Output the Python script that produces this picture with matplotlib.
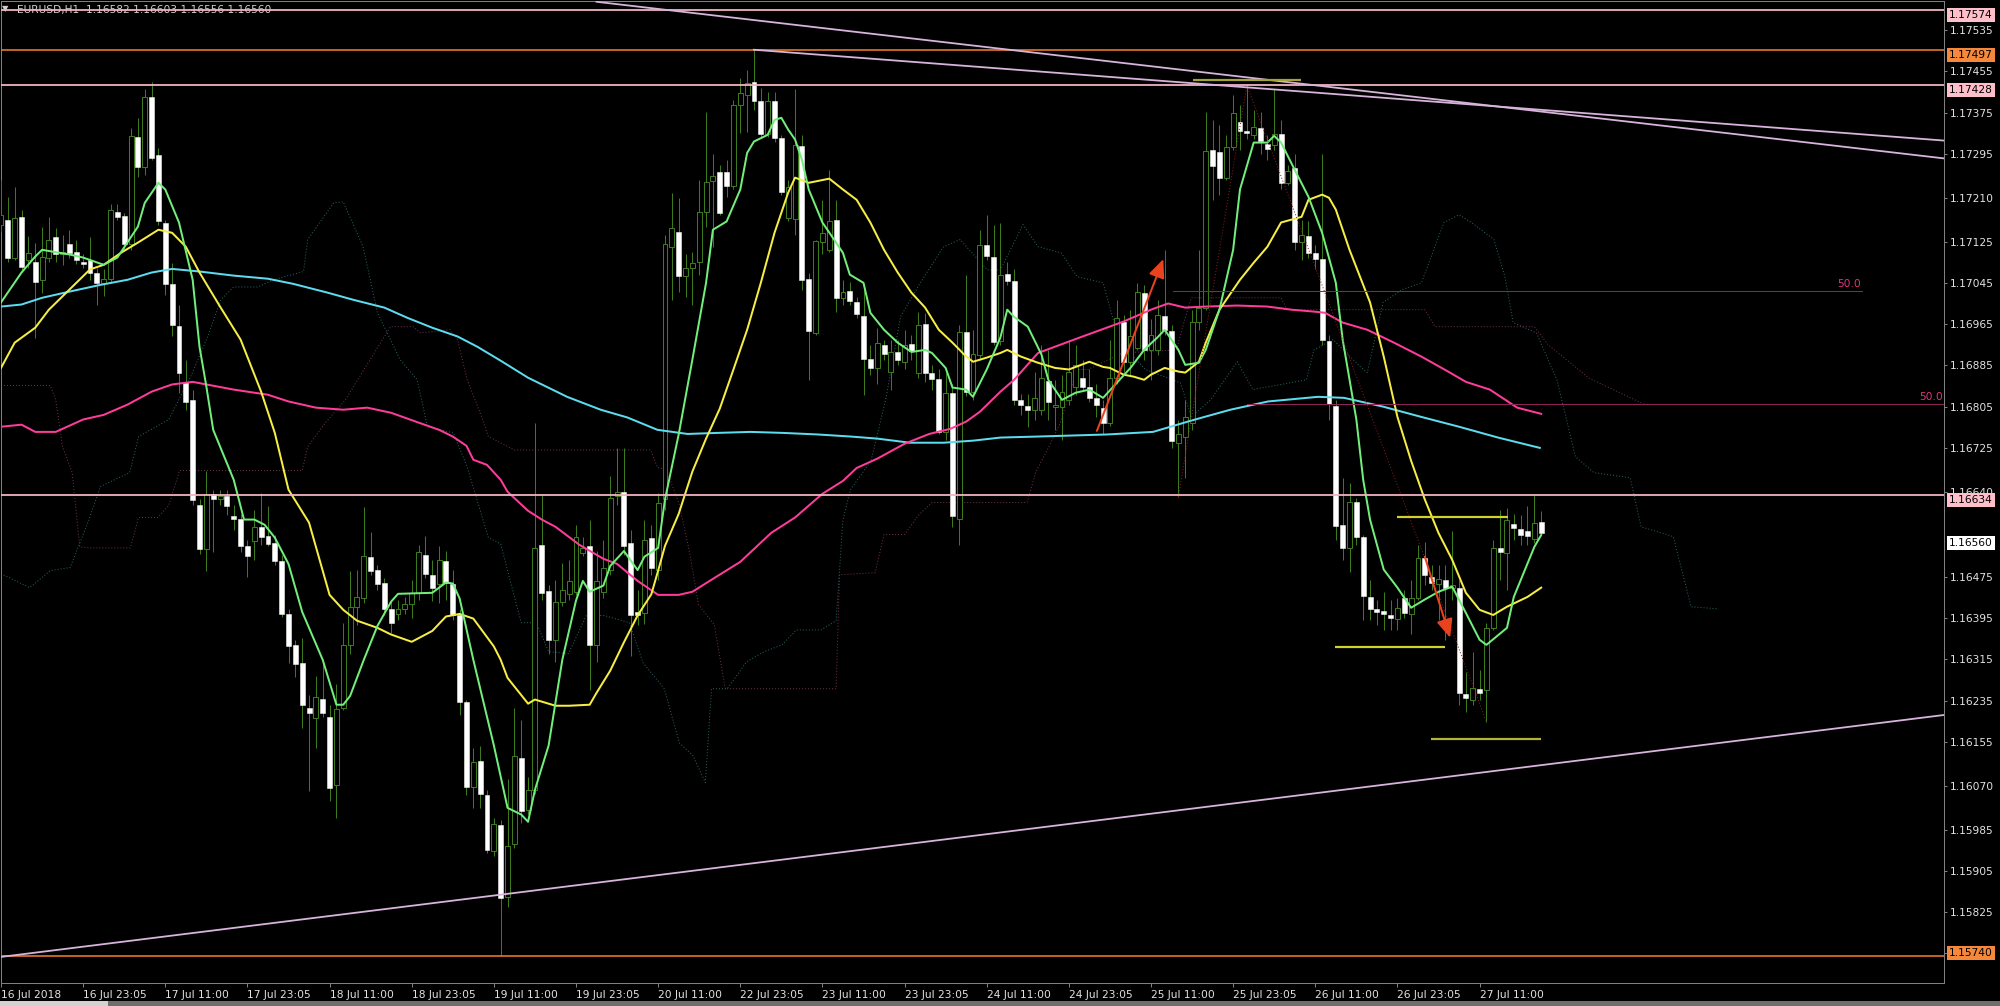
import numpy as np
import matplotlib
matplotlib.use("Agg")
import matplotlib.pyplot as plt

plt.rcParams['font.family'] = ['DejaVu Sans']

# ---------------- data (EURUSD H1) ----------------
opens = [
1.17158,1.17167,1.17094,1.17173,1.17090,1.17086,1.17051,1.17094,1.17133,1.17100,
1.17121,1.17105,1.17086,1.17090,1.17065,1.17045,1.17053,1.17183,1.17175,1.17121,
1.17328,1.17270,1.17406,1.17292,1.17162,1.17043,1.16962,1.16853,1.16817,1.16615,
1.16528,1.16636,1.16625,1.16632,1.16592,1.16588,1.16534,1.16545,1.16572,1.16555,
1.16541,1.16506,1.16402,1.16343,1.16308,1.16221,1.16202,1.16238,1.16204,1.16072,
1.16221,1.16342,1.16417,1.16434,1.16514,1.16489,1.16463,1.16413,1.16403,1.16413,
1.16423,1.16444,1.16518,1.16479,1.16461,1.16506,1.16461,1.16400,1.16233,1.16068,
1.16117,1.16051,1.15944,1.15994,1.15855,1.15956,1.16124,1.16023,1.16062,1.16537,
1.16448,1.16353,1.16427,1.16442,1.16446,1.16522,1.16535,1.16343,1.16446,1.16489,
1.16632,1.16640,1.16541,1.16407,1.16404,1.16551,1.16489,1.16625,1.17115,1.17144,
1.17059,1.17074,1.17086,1.17183,1.17243,1.17259,1.17259,1.17233,1.17390,1.17410,
1.17435,1.17398,1.17334,1.17398,1.17325,1.17171,1.17169,1.17311,1.17053,1.16948,
1.17125,1.17109,1.17167,1.17016,1.17030,1.17008,1.16981,1.16898,1.16880,1.16925,
1.16873,1.16911,1.16892,1.16927,1.16871,1.16966,1.16871,1.16859,1.16756,1.16832,
1.16588,1.16950,1.16834,1.16906,1.17119,1.17096,1.16933,1.17063,1.17049,1.16817,
1.16807,1.16799,1.16799,1.16855,1.16805,1.16805,1.16818,1.16844,1.16861,1.16844,
1.16822,1.16803,1.16774,1.16861,1.16970,1.16892,1.16919,1.17026,1.16915,1.16915,
1.16981,1.16952,1.16735,1.16747,1.16774,1.16970,1.16997,1.17303,1.17299,1.17249,
1.17309,1.17356,1.17340,1.17332,1.17346,1.17315,1.17313,1.17334,1.17239,1.17268,
1.17125,1.17135,1.17102,1.17092,1.16933,1.16807,1.16576,1.16530,1.16621,1.16553,
1.16436,1.16412,1.16409,1.16400,1.16394,1.16433,1.16402,1.16434,1.16512,1.16475,
1.16461,1.16469,1.16454,1.16454,1.16248,1.16237,1.16258,1.16256,1.16376,1.16531,
1.16522,1.16578,1.16568,1.16563,1.16549,1.16582]
highs = [
1.17245,1.17212,1.17231,1.17187,1.17136,1.17123,1.17154,1.17173,1.17152,1.17138,
1.17148,1.17129,1.17100,1.17133,1.17074,1.17071,1.17197,1.17197,1.17181,1.17346,
1.17365,1.17420,1.17435,1.17307,1.17167,1.17084,1.17003,1.16896,1.16838,1.16625,
1.16681,1.16644,1.16644,1.16644,1.16615,1.16596,1.16547,1.16605,1.16638,1.16613,
1.16557,1.16518,1.16412,1.16353,1.16357,1.16246,1.16283,1.16314,1.16227,1.16267,
1.16386,1.16487,1.16489,1.16611,1.16561,1.16498,1.16473,1.16431,1.16431,1.16436,
1.16469,1.16537,1.16555,1.16508,1.16535,1.16526,1.16489,1.16412,1.16237,1.16144,
1.16146,1.16062,1.16008,1.16004,1.16082,1.16221,1.16198,1.16086,1.16774,1.16636,
1.16459,1.16469,1.16502,1.16508,1.16576,1.16553,1.16586,1.16526,1.16547,1.16671,
1.16725,1.16725,1.16566,1.16450,1.16586,1.16576,1.16638,1.17138,1.17220,1.17210,
1.17100,1.17105,1.17245,1.17377,1.17294,1.17274,1.17284,1.17400,1.17443,1.17458,
1.17497,1.17423,1.17416,1.17416,1.17332,1.17245,1.17420,1.17332,1.17065,1.17129,
1.17206,1.17264,1.17206,1.17051,1.17047,1.17018,1.17032,1.16925,1.16958,1.16935,
1.16935,1.16935,1.16954,1.16944,1.16989,1.16987,1.16886,1.16877,1.16871,1.16848,
1.16964,1.17061,1.16954,1.17148,1.17177,1.17158,1.17162,1.17086,1.17071,1.16829,
1.16829,1.16873,1.16925,1.16915,1.16857,1.16867,1.16935,1.16925,1.16896,1.16877,
1.16848,1.16818,1.16935,1.17012,1.16983,1.16993,1.17045,1.17041,1.16974,1.17012,
1.17109,1.16964,1.16780,1.16818,1.16993,1.17109,1.17377,1.17361,1.17352,1.17332,
1.17410,1.17390,1.17428,1.17381,1.17377,1.17332,1.17421,1.17361,1.17274,1.17294,
1.17167,1.17164,1.17119,1.17294,1.16944,1.16818,1.16667,1.16656,1.16628,1.16557,
1.16469,1.16431,1.16446,1.16431,1.16434,1.16450,1.16469,1.16537,1.16543,1.16498,
1.16498,1.16498,1.16563,1.16469,1.16291,1.16330,1.16295,1.16386,1.16547,1.16605,
1.16609,1.16596,1.16594,1.16613,1.16634,1.16603]
lows = [
1.17144,1.17086,1.17090,1.17067,1.17074,1.16939,1.17026,1.17086,1.17086,1.17080,
1.17094,1.17082,1.17074,1.17051,1.17003,1.17020,1.17047,1.17167,1.17109,1.17109,
1.17251,1.17255,1.17284,1.17158,1.17022,1.16941,1.16832,1.16799,1.16615,1.16520,
1.16487,1.16524,1.16615,1.16594,1.16566,1.16524,1.16475,1.16508,1.16537,1.16534,
1.16498,1.16398,1.16308,1.16281,1.16182,1.16060,1.16144,1.16204,1.16041,1.16008,
1.16217,1.16326,1.16382,1.16425,1.16479,1.16450,1.16400,1.16367,1.16392,1.16402,
1.16396,1.16431,1.16473,1.16429,1.16425,1.16431,1.16392,1.16208,1.16051,1.16027,
1.16027,1.15940,1.15934,1.15740,1.15835,1.15950,1.15998,1.16016,1.16053,1.16431,
1.16326,1.16310,1.16419,1.16431,1.16440,1.16516,1.16256,1.16310,1.16434,1.16479,
1.16615,1.16518,1.16322,1.16382,1.16384,1.16479,1.16469,1.16605,1.17012,1.17028,
1.17018,1.17003,1.17061,1.17154,1.17115,1.17177,1.17212,1.17226,1.17336,1.17338,
1.17381,1.17328,1.17328,1.17319,1.17216,1.17164,1.17138,1.17032,1.16857,1.16944,
1.17100,1.17105,1.16989,1.17003,1.17003,1.16977,1.16828,1.16867,1.16848,1.16896,
1.16838,1.16886,1.16877,1.16896,1.16861,1.16853,1.16838,1.16751,1.16741,1.16572,
1.16537,1.16826,1.16818,1.16896,1.17090,1.16925,1.16925,1.17041,1.16809,1.16789,
1.16766,1.16780,1.16789,1.16780,1.16760,1.16741,1.16809,1.16828,1.16838,1.16814,
1.16784,1.16751,1.16768,1.16848,1.16873,1.16867,1.16915,1.16896,1.16857,1.16906,
1.16944,1.16725,1.16630,1.16667,1.16760,1.16954,1.16993,1.17206,1.17216,1.17245,
1.17303,1.17303,1.17323,1.17323,1.17294,1.17284,1.17303,1.17226,1.17235,1.17109,
1.17090,1.17094,1.17071,1.16925,1.16780,1.16547,1.16508,1.16485,1.16537,1.16392,
1.16392,1.16382,1.16372,1.16372,1.16372,1.16396,1.16365,1.16431,1.16459,1.16450,
1.16392,1.16353,1.16431,1.16227,1.16213,1.16227,1.16237,1.16194,1.16372,1.16469,
1.16450,1.16547,1.16537,1.16537,1.16541,1.16556]
closes = [
1.17177,1.17094,1.17171,1.17076,1.17103,1.17047,1.17096,1.17129,1.17100,1.17105,
1.17103,1.17090,1.17082,1.17065,1.17045,1.17053,1.17187,1.17173,1.17121,1.17330,
1.17270,1.17406,1.17288,1.17164,1.17043,1.16964,1.16871,1.16813,1.16623,1.16528,
1.16636,1.16625,1.16632,1.16613,1.16588,1.16535,1.16516,1.16572,1.16553,1.16539,
1.16506,1.16402,1.16340,1.16306,1.16227,1.16210,1.16242,1.16210,1.16066,1.16219,
1.16342,1.16417,1.16436,1.16516,1.16487,1.16461,1.16413,1.16386,1.16413,1.16423,
1.16444,1.16524,1.16481,1.16454,1.16508,1.16463,1.16400,1.16233,1.16068,1.16115,
1.16053,1.15946,1.15996,1.15853,1.15954,1.16128,1.16021,1.16062,1.16531,1.16444,
1.16353,1.16427,1.16450,1.16467,1.16553,1.16531,1.16343,1.16467,1.16493,1.16628,
1.16640,1.16535,1.16400,1.16400,1.16547,1.16493,1.16619,1.17121,1.17152,1.17059,
1.17074,1.17084,1.17183,1.17241,1.17253,1.17181,1.17233,1.17390,1.17414,1.17433,
1.17398,1.17334,1.17398,1.17325,1.17222,1.17231,1.17313,1.17051,1.16952,1.17127,
1.17142,1.17164,1.17016,1.17028,1.17010,1.16985,1.16898,1.16880,1.16929,1.16908,
1.16911,1.16896,1.16925,1.16913,1.16964,1.16871,1.16859,1.16756,1.16832,1.16592,
1.16950,1.16834,1.16908,1.17119,1.17098,1.16931,1.17061,1.17049,1.16817,1.16809,
1.16799,1.16822,1.16861,1.16813,1.16809,1.16834,1.16873,1.16886,1.16844,1.16822,
1.16809,1.16774,1.16861,1.16977,1.16892,1.16941,1.17028,1.16915,1.16944,1.16983,
1.16954,1.16739,1.16752,1.16785,1.16970,1.16997,1.17301,1.17272,1.17249,1.17309,
1.17375,1.17340,1.17336,1.17348,1.17321,1.17305,1.17334,1.17239,1.17262,1.17125,
1.17138,1.17103,1.17092,1.16935,1.16811,1.16574,1.16530,1.16621,1.16553,1.16438,
1.16412,1.16407,1.16402,1.16396,1.16415,1.16405,1.16433,1.16512,1.16479,1.16463,
1.16471,1.16454,1.16459,1.16250,1.16240,1.16260,1.16250,1.16376,1.16531,1.16524,
1.16586,1.16570,1.16557,1.16555,1.16580,1.16560]

# moving averages (bar position, price)
ma_green_x = [0,3,5,6,10,12,15,17,20,21,23,24,26,28,29,30,31,34,35.5,37,38.5,40,42,44,47,49,50,51,53,55,57,58,63,65,66,67,69,72,74,76,77,78,80,82,84,85,86,88,89,91,93,94,96,97,99,101,103,104,106,108,109,110,112,113,114,115,116,117,118,120,122,123,124,126,127,129,131,133,135,136,138,139,141,142,144,146,147,148,150,152,153,155,157,159,161,163,165,167,169,170,172,173,175,176,177,178,180,181,183,185,186,187,189,191,193,195,196,198,199,200,202,204,206,208,210,212,214,216,217,220,221,224,225]
ma_green = [1.17007,1.17065,1.17096,1.17109,1.17100,1.17094,1.17080,1.17094,1.17154,1.17200,1.17239,1.17226,1.17162,1.17051,1.16921,1.16844,1.16760,1.16663,1.16586,1.16586,1.16576,1.16551,1.16500,1.16407,1.16314,1.16227,1.16227,1.16244,1.16314,1.16380,1.16427,1.16442,1.16444,1.16464,1.16462,1.16433,1.16314,1.16148,1.16027,1.16014,1.16000,1.16062,1.16148,1.16314,1.16429,1.16467,1.16446,1.16458,1.16496,1.16525,1.16488,1.16514,1.16531,1.16625,1.16751,1.16896,1.17045,1.17148,1.17164,1.17226,1.17297,1.17319,1.17332,1.17361,1.17365,1.17342,1.17323,1.17284,1.17226,1.17162,1.17123,1.17103,1.17061,1.17045,1.16987,1.16954,1.16929,1.16911,1.16915,1.16909,1.16880,1.16842,1.16838,1.16824,1.16877,1.16939,1.16993,1.16979,1.16960,1.16906,1.16857,1.16818,1.16832,1.16838,1.16822,1.16851,1.16880,1.16915,1.16940,1.16954,1.16915,1.16886,1.16890,1.16915,1.16954,1.16993,1.17109,1.17226,1.17317,1.17317,1.17330,1.17317,1.17264,1.17212,1.17142,1.17045,1.16935,1.16780,1.16663,1.16586,1.16489,1.16454,1.16415,1.16431,1.16446,1.16456,1.16405,1.16353,1.16343,1.16376,1.16436,1.16533,1.16556]

ma_yellow_x = [0,2,5,7,10,13,15,17.5,20,23,25,27,29,32,35,38,40,42,45,48,50,52,55,57,60,63,65,67,69,72,73,74,77,78,81,83,86,87,89,91,93,95,96,97,99,101,103,105,107,109,111,113,115,116,118,121,123,125,127,129,131,133,135,137,139,141,142,144,146,147,149,151.5,154,156,157,159,161,162,164,165.5,167,168,170,172,173,175,176,178,181,183,185,187,190,191,193,194,195,197,200,202,204,206,208,210,212,214,216,218,220,223,225]
ma_yellow = [1.16880,1.16929,1.16958,1.16993,1.17032,1.17071,1.17080,1.17103,1.17123,1.17148,1.17142,1.17115,1.17065,1.16999,1.16935,1.16834,1.16754,1.16644,1.16580,1.16440,1.16411,1.16390,1.16376,1.16363,1.16349,1.16370,1.16398,1.16403,1.16394,1.16340,1.16314,1.16279,1.16229,1.16237,1.16225,1.16225,1.16227,1.16250,1.16293,1.16348,1.16400,1.16441,1.16487,1.16535,1.16597,1.16679,1.16743,1.16801,1.16877,1.16954,1.17045,1.17142,1.17220,1.17249,1.17239,1.17247,1.17226,1.17206,1.17162,1.17109,1.17065,1.17026,1.16997,1.16954,1.16929,1.16902,1.16892,1.16900,1.16909,1.16915,1.16902,1.16890,1.16880,1.16877,1.16882,1.16892,1.16882,1.16880,1.16867,1.16863,1.16857,1.16867,1.16880,1.16873,1.16871,1.16892,1.16929,1.16993,1.17051,1.17084,1.17115,1.17162,1.17173,1.17206,1.17216,1.17210,1.17187,1.17109,1.17007,1.16902,1.16785,1.16700,1.16625,1.16560,1.16508,1.16444,1.16411,1.16401,1.16417,1.16436,1.16454]

ma_pink_x = [0,3,5,8,12,15,18.5,22,25,28,30,34,39,42,46,50,53.5,57,61,64,66,68,69,71,73,74,77,79,81,84.5,88,90,93,96,99,101,104,108,112.5,116,120,123,125,128,132,135.6,138.7,141,143,146,148,151.5,158,164,168,170.5,173,176,180.6,185,188.5,192,193.4,196,199.6,203.5,207.5,211.4,214,217.5,221.5,225]
ma_pink = [1.16766,1.16770,1.16756,1.16756,1.16780,1.16789,1.16809,1.16834,1.16848,1.16853,1.16848,1.16838,1.16828,1.16815,1.16803,1.16799,1.16803,1.16793,1.16774,1.16760,1.16747,1.16729,1.16702,1.16692,1.16663,1.16640,1.16603,1.16586,1.16572,1.16537,1.16510,1.16500,1.16467,1.16440,1.16440,1.16446,1.16471,1.16504,1.16560,1.16590,1.16636,1.16661,1.16686,1.16704,1.16733,1.16752,1.16762,1.16776,1.16795,1.16834,1.16857,1.16909,1.16941,1.16970,1.16993,1.17005,1.16997,1.16999,1.17001,1.16999,1.16993,1.16989,1.16987,1.16968,1.16954,1.16929,1.16902,1.16873,1.16853,1.16838,1.16803,1.16791]

ma_cyan_x = [0,3,6,10,14.5,18.5,22,25,29,34,39,42.7,47.7,51.5,56,59.4,63,66.7,69.6,73,77,82.7,87.6,91.5,95.9,100.3,104.6,109.5,114.3,119.3,124.1,128,132.8,137.7,142,146,151.5,161.6,168.3,173.9,179.6,185.1,192.4,196.2,201.9,207.5,213,218.7,224.8]
ma_cyan = [1.16999,1.17003,1.17016,1.17028,1.17041,1.17051,1.17065,1.17072,1.17067,1.17059,1.17053,1.17043,1.17026,1.17012,1.16997,1.16977,1.16958,1.16941,1.16921,1.16894,1.16861,1.16824,1.16799,1.16784,1.16760,1.16752,1.16754,1.16756,1.16754,1.16751,1.16747,1.16743,1.16735,1.16735,1.16739,1.16745,1.16747,1.16751,1.16756,1.16778,1.16799,1.16815,1.16824,1.16822,1.16805,1.16785,1.16766,1.16745,1.16725]

# ichimoku cloud borders (bar position, price)
span_a_x = [0,4.2,7.2,10.1,12.8,14.5,18.8,20.1,24.5,27.7,30.2,32.1,34,37.5,39.8,44.2,44.8,48.6,50,52.9,55,58.3,60.8,62.3,66.1,68.1,71.2,73,74,76,78.2,80,82.9,85.5,88.1,91.8,93.8,96.9,99.1,101.1,102.9,103.8,106.1,108.9,111.5,114.1,116.2,119.8,122,123,124.1,127.1,129.3,131.4,134.3,137.7,140.1,144.1,146,149.3,151.5,154.9,157.2,161,163.4,167.2,172.3,173.9,176.7,180.6,182.9,190.7,191.8,194.6,198.6,199.6,201.9,204.7,207.5,210.8,213,214.8,218.1,219.7,220.9,224.3,227.3,230,232.7,238,239.6,244.3,246.9,250.7]
span_a = [1.16481,1.16454,1.16487,1.16493,1.16584,1.16650,1.16677,1.16747,1.16780,1.16863,1.16941,1.17012,1.17037,1.17037,1.17051,1.17067,1.17129,1.17200,1.17202,1.17115,1.16987,1.16896,1.16857,1.16766,1.16754,1.16688,1.16551,1.16539,1.16487,1.16386,1.16386,1.16330,1.16326,1.16400,1.16400,1.16386,1.16308,1.16258,1.16153,1.16128,1.16076,1.16258,1.16258,1.16310,1.16330,1.16343,1.16372,1.16372,1.16390,1.16586,1.16644,1.16700,1.16822,1.16979,1.17045,1.17115,1.17129,1.17070,1.17070,1.17158,1.17115,1.17103,1.17057,1.17045,1.16929,1.16877,1.16851,1.16785,1.16818,1.16892,1.16838,1.16857,1.16915,1.16935,1.16882,1.16871,1.17007,1.17032,1.17045,1.17162,1.17177,1.17162,1.17129,1.17057,1.16968,1.16948,1.16857,1.16708,1.16677,1.16667,1.16572,1.16553,1.16417,1.16413]
span_b_x = [0,7.2,8,9,10.4,11.5,12.9,18.9,20.1,22.9,24.5,26.1,44,44.8,47.4,50.3,56.9,60.2,61.3,65.6,66.7,68.1,70,71.2,75,94.9,95.9,97.2,99.1,100.6,101.9,104.2,105.8,122,122.5,127.7,129,132,134,136,149.9,151.2,153,154.7,157.2,158.8,163.8,171.7,172.8,173.9,187,187.9,201.6,208,209.5,224,226,232,240]
span_b = [1.16846,1.16846,1.16818,1.16727,1.16677,1.16533,1.16531,1.16531,1.16590,1.16590,1.16613,1.16681,1.16681,1.16727,1.16774,1.16818,1.16960,1.16960,1.16948,1.16954,1.16935,1.16857,1.16793,1.16747,1.16721,1.16721,1.16687,1.16683,1.16615,1.16522,1.16421,1.16382,1.16258,1.16258,1.16479,1.16483,1.16557,1.16557,1.16594,1.16619,1.16619,1.16679,1.16725,1.16772,1.16877,1.16877,1.16909,1.16915,1.16968,1.17016,1.17016,1.16993,1.16993,1.16993,1.16960,1.16960,1.16925,1.16860,1.16810]

# drawn objects
levels = [1.17574, 1.17497, 1.17428, 1.16634, 1.15740]
level_kinds = ["pink", "orange", "pink", "pink", "orange"]
trend_lines = [((87.0, 1.17590), (284.7, 1.17285)),
               ((110.0, 1.17497), (284.7, 1.17320)),
               ((0.0, 1.15738), (283.8, 1.16207))]
fib_levels = [(171.2, 271.9, 1.17029), (182.0, 284.0, 1.16810)]
fib_text = "50.0"
marks = [(174.2, 189.9, 1.17438, "#a4a436"), (204.0, 220.2, 1.16591, "#d2d22a"),
         (194.9, 211.0, 1.16339, "#d2d22a"), (208.9, 225.0, 1.16161, "#b4b434")]
arrows = [((160.1, 1.16758), (169.8, 1.17091)), ((208.0, 1.16514), (211.7, 1.16357))]
zigzag_x = [172, 182, 217]
zigzag = [1.16630, 1.17428, 1.16194]

ytick_vals = [1.17535, 1.17455, 1.17375, 1.17295, 1.17210, 1.17125, 1.17045, 1.16965,
              1.16885, 1.16805, 1.16725, 1.16640, 1.16475, 1.16395, 1.16315, 1.16235,
              1.16155, 1.16070, 1.15985, 1.15905, 1.15825, 1.15745]
xtick_bars = list(range(0, 217, 12))
xtick_labels = ["16 Jul 2018", "16 Jul 23:05", "17 Jul 11:00", "17 Jul 23:05", "18 Jul 11:00",
                "18 Jul 23:05", "19 Jul 11:00", "19 Jul 23:05", "20 Jul 11:00", "22 Jul 23:05",
                "23 Jul 11:00", "23 Jul 23:05", "24 Jul 11:00", "24 Jul 23:05", "25 Jul 11:00",
                "25 Jul 23:05", "26 Jul 11:00", "26 Jul 23:05", "27 Jul 11:00"]
price_boxes = [(1.17574, "1.17574", "#ffbfca", -5), (1.17497, "1.17497", "#f5883a", -5),
               (1.17428, "1.17428", "#ffbfca", -5), (1.16634, "1.16634", "#ffbfca", -5),
               (1.16560, "1.16560", "#ffffff", -10), (1.15740, "1.15740", "#f5883a", 3)]
title = "EURUSD,H1  1.16582 1.16603 1.16556 1.16560"

# ---------------- styling ----------------
W, H = 2000, 1006
PX = 72 / 100.0
FS = 7.7
GRAY = "#808080"
TXT = "#e2e2e2"
WICK = "#3c7a1c"
fig = plt.figure(figsize=(W / 100, H / 100), dpi=100, facecolor="black")
L_px, R_px, T_px, B_px = 1, 1944, 1, 983
ax = fig.add_axes([L_px / W, 1 - B_px / H, (R_px - L_px) / W, (B_px - T_px) / H])
ax.set_facecolor("black")
bar_px = 6.847
x0 = (L_px - 0.5) / bar_px
ax.set_xlim(x0, x0 + (R_px - L_px) / bar_px)
ax.set_ylim(1.156874, 1.175915)

o = np.array(opens); h = np.array(highs); l = np.array(lows); c = np.array(closes)
idx = np.arange(len(o))
up = c >= o

# ichimoku (behind)
ax.plot(span_a_x, span_a, color="#2a6464", lw=1 * PX, ls=(0, (1, 2)), zorder=2)
ax.plot(span_b_x, span_b, color="#6e3252", lw=1 * PX, ls=(0, (1, 2)), zorder=2)

# candles
ax.vlines(idx, l, h, color=WICK, lw=1 * PX, zorder=3)
bw = 0.72
ax.bar(idx[up], np.maximum(c - o, 2e-6)[up], bottom=o[up], width=bw, facecolor="black",
       edgecolor=WICK, linewidth=1 * PX, zorder=4)
ax.bar(idx[~up], np.maximum(o - c, 2e-6)[~up], bottom=c[~up], width=bw, facecolor="white",
       edgecolor="white", linewidth=0.5 * PX, zorder=4)

# moving averages
ax.plot(ma_cyan_x, ma_cyan, color="#5ddcef", lw=2 * PX, zorder=5)
ax.plot(ma_pink_x, ma_pink, color="#ff3c9c", lw=2 * PX, zorder=5)
ax.plot(ma_yellow_x, ma_yellow, color="#f6ee44", lw=2 * PX, zorder=5)
ax.plot(ma_green_x, ma_green, color="#72ee7c", lw=2 * PX, zorder=5)

# zigzag
ax.plot(zigzag_x, zigzag, color="#8e1c1c", lw=1 * PX, ls=(0, (1, 2)), zorder=5)

# fibo 50 levels
for (xa, xb, p) in fib_levels:
    ax.plot([xa, xb], [p, p], color="#8c2456", lw=1 * PX, zorder=5)
    ax.annotate(fib_text, xy=(min(xb, ax.get_xlim()[1]), p), xytext=(-1, 2),
                textcoords="offset pixels", ha="right", va="bottom", fontsize=FS,
                color="#e0347e", zorder=6, annotation_clip=False)

# horizontal levels
for p, k in zip(levels, level_kinds):
    if k == "pink":
        ax.axhline(p, color="#f2b4c2", lw=1.8 * PX, zorder=6)
    else:
        ax.axhline(p, color="#f07a2a", lw=1.6 * PX, zorder=6)

# trend lines
for (a, b) in trend_lines:
    ax.plot([a[0], b[0]], [a[1], b[1]], color="#d8b4dc", lw=1.8 * PX, zorder=6)

# short marks
for (xa, xb, p, col) in marks:
    ax.plot([xa, xb], [p, p], color=col, lw=2.2 * PX, zorder=6, solid_capstyle="butt")

# arrows
for (s, e) in arrows:
    ax.annotate("", xy=e, xytext=s,
                arrowprops=dict(arrowstyle="-|>,head_length=0.8,head_width=0.35",
                                color="#e8431e", lw=2 * PX, shrinkA=0, shrinkB=0,
                                mutation_scale=14), zorder=7)

# axes styling
for side in ["left", "top", "right", "bottom"]:
    ax.spines[side].set_color(GRAY)
    ax.spines[side].set_linewidth(1 * PX)
ax.yaxis.tick_right()
ax.set_yticks(ytick_vals)
ax.set_yticklabels([f"{v:.5f}" for v in ytick_vals])
ax.set_xticks(xtick_bars)
ax.set_xticklabels(xtick_labels, ha="left")
ax.tick_params(axis="y", colors=GRAY, labelcolor=TXT, length=3 * PX, width=1 * PX,
               pad=3 * PX, labelsize=FS)
ax.tick_params(axis="x", colors=GRAY, labelcolor=TXT, length=4 * PX, width=1 * PX,
               pad=3 * PX, labelsize=FS)

# price boxes on the right scale
for p, s, fc, dy in price_boxes:
    ax.annotate(s, xy=(1, p), xycoords=("axes fraction", "data"), xytext=(5, dy),
                textcoords="offset pixels", ha="left", va="center", fontsize=FS,
                color="black", zorder=10, annotation_clip=False,
                bbox=dict(boxstyle="square,pad=0.2", fc=fc, ec="none"))

# title
ax.annotate(title, xy=(17, H - 10.5), xycoords="figure pixels", ha="left", va="center",
            fontsize=FS, color="#cfcfcf", zorder=1, annotation_clip=False)
ax.annotate("\u25bc", xy=(5, H - 9), xycoords="figure pixels", ha="center", va="center",
            fontsize=6, color="#cfcfcf", zorder=1, annotation_clip=False)

# bottom tab strip
fig.patches.append(plt.Rectangle((0, 0), 1, 5 / H, transform=fig.transFigure,
                                 facecolor="#6e6e6e", edgecolor="none", zorder=0))
fig.patches.append(plt.Rectangle((0, 0), 108 / W, 5 / H, transform=fig.transFigure,
                                 facecolor="#d2d2d2", edgecolor="none", zorder=0))

fig.savefig("out.png", dpi=100, facecolor="black")
